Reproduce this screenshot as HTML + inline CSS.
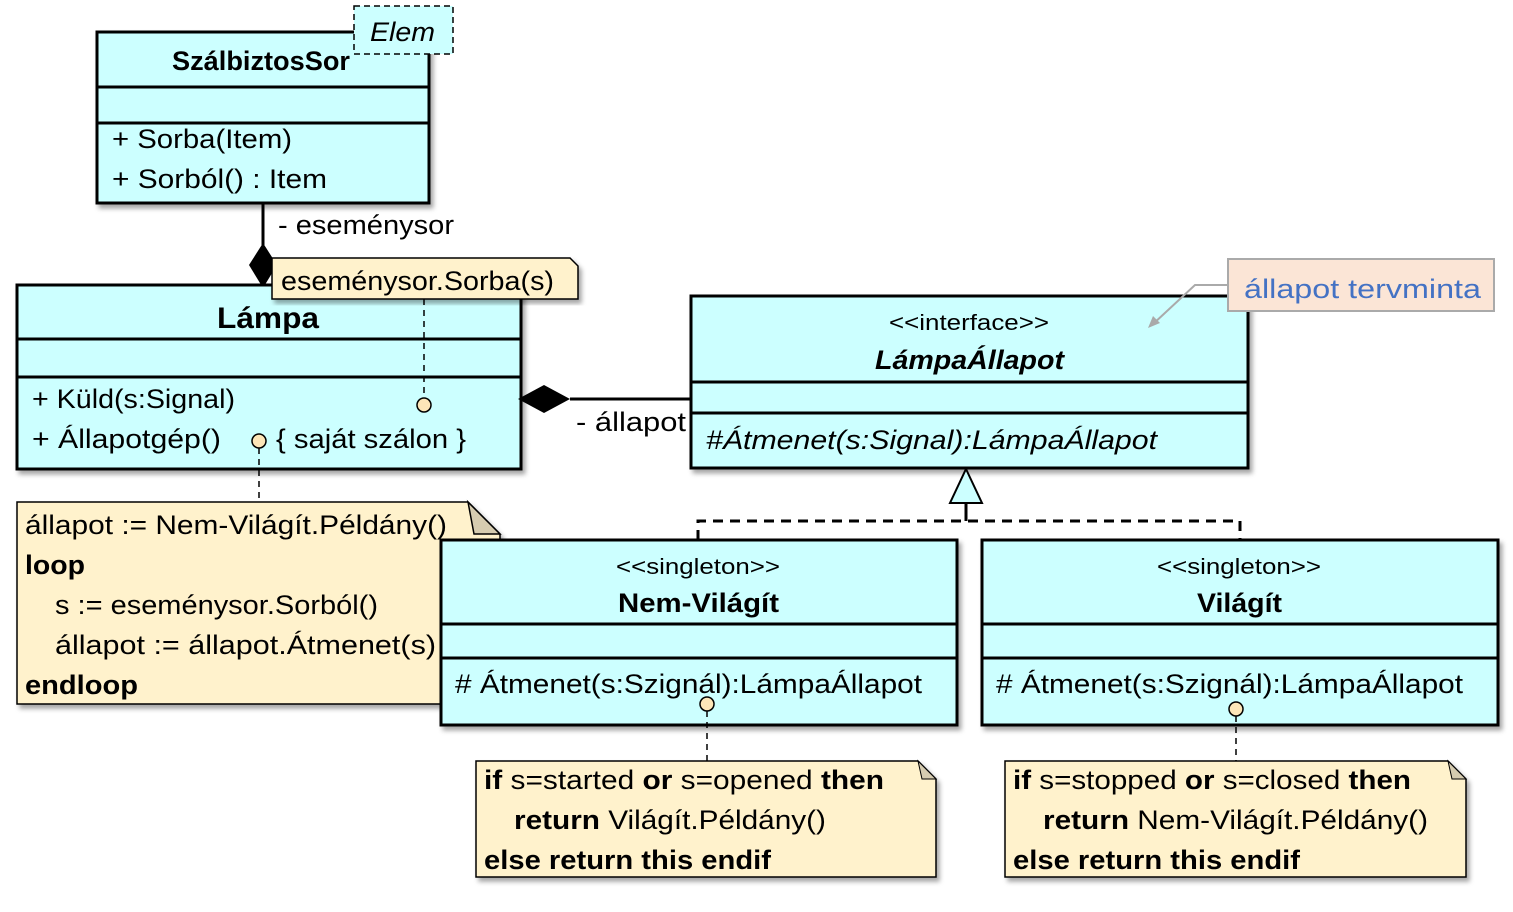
<!DOCTYPE html>
<html><head><meta charset="utf-8"><style>
html,body{margin:0;padding:0;background:#fff;}
svg{display:block;}
text{font-family:"Liberation Sans",sans-serif;font-size:27px;fill:#000;}
.b{font-weight:bold;}
.s{font-size:22px;}
</style></head><body>
<svg width="1513" height="912" viewBox="0 0 1513 912" xmlns="http://www.w3.org/2000/svg">
<defs>
<filter id="sh" x="-5%" y="-5%" width="115%" height="120%">
<feDropShadow dx="3" dy="4" stdDeviation="2.5" flood-color="#000" flood-opacity="0.35"/>
</filter>
</defs>

<rect x="97" y="32" width="332" height="171" fill="#ccffff" stroke="#000" stroke-width="3" filter="url(#sh)"/>
<line x1="97" y1="87" x2="429" y2="87" stroke="#000" stroke-width="3"/>
<line x1="97" y1="123" x2="429" y2="123" stroke="#000" stroke-width="3"/>
<text x="172" y="70" class="b" textLength="178" lengthAdjust="spacingAndGlyphs">SzálbiztosSor</text>
<text x="112" y="148" textLength="180" lengthAdjust="spacingAndGlyphs">+ Sorba(Item)</text>
<text x="112" y="188" textLength="215" lengthAdjust="spacingAndGlyphs">+ Sorból() : Item</text>
<rect x="354" y="6" width="99" height="48" fill="#ccffff" stroke="#000" stroke-width="1.5" stroke-dasharray="6,4"/>
<text x="370" y="41" font-style="italic" textLength="65" lengthAdjust="spacingAndGlyphs">Elem</text>

<line x1="263" y1="203" x2="263" y2="245" stroke="#000" stroke-width="3"/>
<polygon points="263,243 277,265 263,288 249,265" fill="#000"/>
<text x="278" y="234" textLength="176" lengthAdjust="spacingAndGlyphs">- eseménysor</text>

<rect x="17" y="285" width="504" height="184" fill="#ccffff" stroke="#000" stroke-width="3" filter="url(#sh)"/>
<line x1="17" y1="339" x2="521" y2="339" stroke="#000" stroke-width="3"/>
<line x1="17" y1="377" x2="521" y2="377" stroke="#000" stroke-width="3"/>
<text x="217" y="328" class="b" style="font-size:30px" textLength="102" lengthAdjust="spacingAndGlyphs">Lámpa</text>
<text x="32" y="408" textLength="203" lengthAdjust="spacingAndGlyphs">+ Küld(s:Signal)</text>
<text x="32" y="448" textLength="189" lengthAdjust="spacingAndGlyphs">+ Állapotgép()</text>
<text x="276" y="448" textLength="190" lengthAdjust="spacingAndGlyphs">{ saját szálon }</text>

<polygon points="272,258 570,258 578,266 578,299 272,299" fill="#fff2cc" stroke="#000" stroke-width="1.5" filter="url(#sh)"/>
<text x="281" y="290" textLength="273" lengthAdjust="spacingAndGlyphs">eseménysor.Sorba(s)</text>
<line x1="424" y1="299" x2="424" y2="398" stroke="#000" stroke-width="1.5" stroke-dasharray="6,5"/>
<circle cx="424" cy="405" r="7" fill="#fde6b8" stroke="#000" stroke-width="1.5"/>

<line x1="570" y1="399" x2="691" y2="399" stroke="#000" stroke-width="3"/>
<polygon points="518,399 544,385 570,399 544,413" fill="#000"/>
<text x="576" y="431" textLength="110" lengthAdjust="spacingAndGlyphs">- állapot</text>

<polygon points="17,502 468,502 500,534 500,704 17,704" fill="#fff2cc" stroke="#000" stroke-width="1.5" filter="url(#sh)"/>
<polygon points="468,502 500,534 474,534" fill="#d6ccb0" stroke="#000" stroke-width="1.5"/>
<text x="25" y="534" textLength="422" lengthAdjust="spacingAndGlyphs">állapot := Nem-Világít.Példány()</text>
<text x="25" y="574" class="b" textLength="60" lengthAdjust="spacingAndGlyphs">loop</text>
<text x="55" y="614" textLength="323" lengthAdjust="spacingAndGlyphs">s := eseménysor.Sorból()</text>
<text x="55" y="654" textLength="381" lengthAdjust="spacingAndGlyphs">állapot := állapot.Átmenet(s)</text>
<text x="25" y="694" class="b" textLength="113" lengthAdjust="spacingAndGlyphs">endloop</text>
<line x1="259" y1="448" x2="259" y2="502" stroke="#000" stroke-width="1.5" stroke-dasharray="6,5"/>
<circle cx="259" cy="441" r="7" fill="#fde6b8" stroke="#000" stroke-width="1.5"/>

<rect x="691" y="296" width="557" height="172" fill="#ccffff" stroke="#000" stroke-width="3" filter="url(#sh)"/>
<line x1="691" y1="382" x2="1248" y2="382" stroke="#000" stroke-width="3"/>
<line x1="691" y1="413" x2="1248" y2="413" stroke="#000" stroke-width="3"/>
<text x="889" y="330" class="s" textLength="160" lengthAdjust="spacingAndGlyphs">&lt;&lt;interface&gt;&gt;</text>
<text x="875" y="369" class="b" font-style="italic" textLength="189" lengthAdjust="spacingAndGlyphs">LámpaÁllapot</text>
<text x="706" y="449" font-style="italic" textLength="451" lengthAdjust="spacingAndGlyphs">#Átmenet(s:Signal):LámpaÁllapot</text>

<polyline points="1228,285 1195,285 1152,325" fill="none" stroke="#aaa" stroke-width="2"/>
<polygon points="1148,328 1153,316 1160,323" fill="#aaa"/>
<rect x="1228" y="259" width="266" height="52" fill="#fbe5d6" stroke="#aaa" stroke-width="2"/>
<text x="1244" y="298" style="fill:#4472c4" textLength="237" lengthAdjust="spacingAndGlyphs">állapot tervminta</text>

<polyline points="698,540 698,521 1240,521 1240,540" fill="none" stroke="#000" stroke-width="3" stroke-dasharray="10,7"/>
<line x1="966" y1="503" x2="966" y2="521" stroke="#000" stroke-width="3"/>
<polygon points="966,469 982,503 950,503" fill="#ccffff" stroke="#000" stroke-width="2"/>

<rect x="441" y="540" width="516" height="185" fill="#ccffff" stroke="#000" stroke-width="3" filter="url(#sh)"/>
<line x1="441" y1="624" x2="957" y2="624" stroke="#000" stroke-width="3"/>
<line x1="441" y1="658" x2="957" y2="658" stroke="#000" stroke-width="3"/>
<text x="616" y="574" class="s" textLength="164" lengthAdjust="spacingAndGlyphs">&lt;&lt;singleton&gt;&gt;</text>
<text x="618" y="612" class="b" textLength="161" lengthAdjust="spacingAndGlyphs">Nem-Világít</text>
<text x="455" y="693" textLength="467" lengthAdjust="spacingAndGlyphs"># Átmenet(s:Szignál):LámpaÁllapot</text>

<rect x="982" y="540" width="516" height="185" fill="#ccffff" stroke="#000" stroke-width="3" filter="url(#sh)"/>
<line x1="982" y1="624" x2="1498" y2="624" stroke="#000" stroke-width="3"/>
<line x1="982" y1="658" x2="1498" y2="658" stroke="#000" stroke-width="3"/>
<text x="1157" y="574" class="s" textLength="164" lengthAdjust="spacingAndGlyphs">&lt;&lt;singleton&gt;&gt;</text>
<text x="1197" y="612" class="b" textLength="85" lengthAdjust="spacingAndGlyphs">Világít</text>
<text x="996" y="693" textLength="467" lengthAdjust="spacingAndGlyphs"># Átmenet(s:Szignál):LámpaÁllapot</text>

<line x1="707" y1="711" x2="707" y2="761" stroke="#000" stroke-width="1.5" stroke-dasharray="6,5"/>
<circle cx="707" cy="704" r="7" fill="#fde6b8" stroke="#000" stroke-width="1.5"/>
<line x1="1236" y1="716" x2="1236" y2="761" stroke="#000" stroke-width="1.5" stroke-dasharray="6,5"/>
<circle cx="1236" cy="709" r="7" fill="#fde6b8" stroke="#000" stroke-width="1.5"/>

<polygon points="476,761 918,761 936,779 936,877 476,877" fill="#fff2cc" stroke="#000" stroke-width="1.5" filter="url(#sh)"/>
<polygon points="918,761 936,779 922,779" fill="#d6ccb0" stroke="#000" stroke-width="1"/>
<text x="484" y="789" textLength="400" lengthAdjust="spacingAndGlyphs"><tspan class="b">if</tspan> s=started <tspan class="b">or</tspan> s=opened  <tspan class="b">then</tspan></text>
<text x="514" y="829" textLength="312" lengthAdjust="spacingAndGlyphs"><tspan class="b">return</tspan> Világít.Példány()</text>
<text x="484" y="869" class="b" textLength="287" lengthAdjust="spacingAndGlyphs">else return this endif</text>

<polygon points="1005,761 1448,761 1466,779 1466,877 1005,877" fill="#fff2cc" stroke="#000" stroke-width="1.5" filter="url(#sh)"/>
<polygon points="1448,761 1466,779 1452,779" fill="#d6ccb0" stroke="#000" stroke-width="1"/>
<text x="1013" y="789" textLength="398" lengthAdjust="spacingAndGlyphs"><tspan class="b">if</tspan> s=stopped  <tspan class="b">or</tspan> s=closed <tspan class="b">then</tspan></text>
<text x="1043" y="829" textLength="385" lengthAdjust="spacingAndGlyphs"><tspan class="b">return</tspan> Nem-Világít.Példány()</text>
<text x="1013" y="869" class="b" textLength="287" lengthAdjust="spacingAndGlyphs">else return this endif</text>
</svg>
</body></html>
